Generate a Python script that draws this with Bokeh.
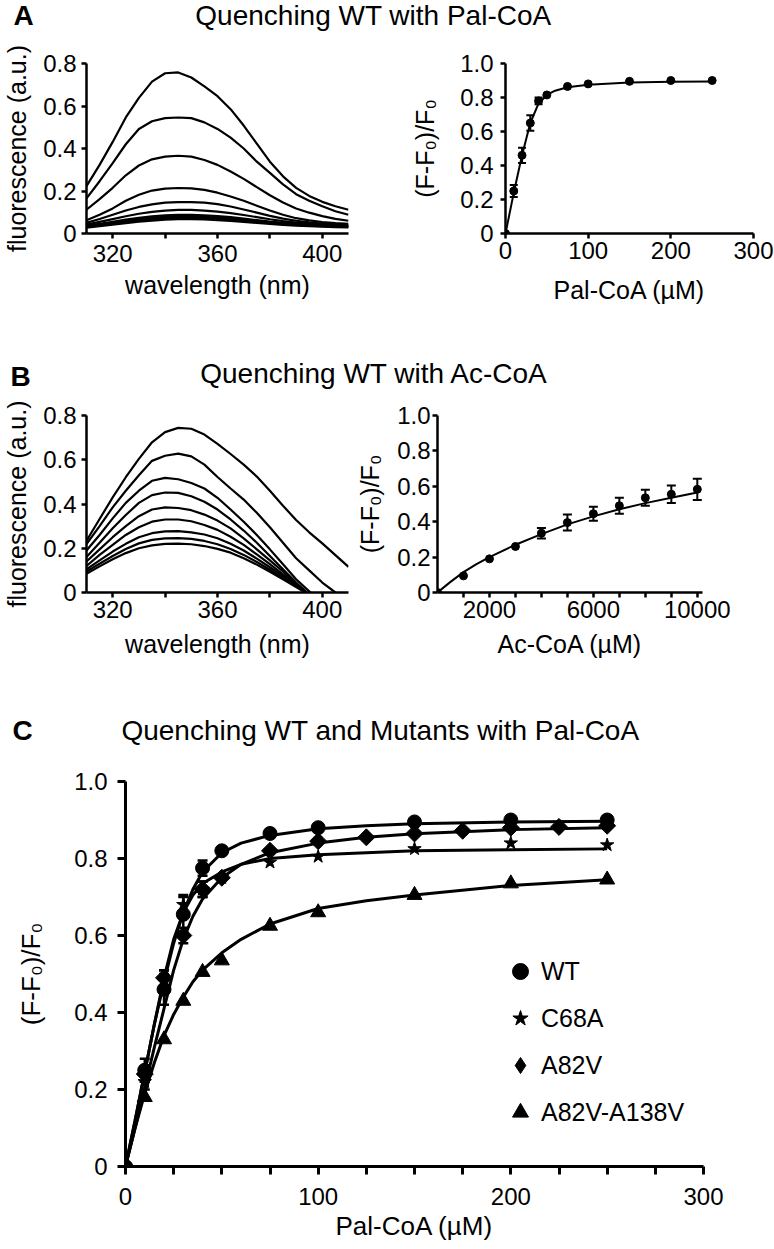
from bokeh.plotting import figure
from bokeh.models import (Range1d, FixedTicker, ColumnDataSource, Whisker, TeeHead,
                          Legend, LegendItem, PrintfTickFormatter)
from bokeh.layouts import column, row
from bokeh.embed import file_html
from bokeh.resources import INLINE
from bokeh.core.properties import value

FONT = "Liberation Sans"

# ---------------- data ----------------
# Panel A (left): emission spectra, WT quenched with Pal-CoA
wl_a = [310, 315, 320, 325, 330, 335, 340, 345, 350, 355, 360, 365, 370, 375, 380, 385, 390, 395, 400, 405, 410]
a_spec1 = [0.223, 0.323, 0.431, 0.546, 0.638, 0.715, 0.754, 0.758, 0.734, 0.692, 0.646, 0.585, 0.508, 0.423, 0.338, 0.269, 0.215, 0.177, 0.149, 0.128, 0.112]
a_spec2 = [0.165, 0.246, 0.331, 0.420, 0.492, 0.528, 0.543, 0.546, 0.543, 0.523, 0.492, 0.451, 0.400, 0.338, 0.285, 0.231, 0.185, 0.154, 0.128, 0.105, 0.088]
a_spec3 = [0.112, 0.162, 0.215, 0.274, 0.320, 0.349, 0.362, 0.366, 0.362, 0.346, 0.323, 0.292, 0.257, 0.218, 0.180, 0.146, 0.118, 0.098, 0.082, 0.069, 0.060]
a_spec4 = [0.062, 0.088, 0.118, 0.154, 0.182, 0.202, 0.211, 0.214, 0.212, 0.205, 0.192, 0.174, 0.154, 0.131, 0.108, 0.088, 0.072, 0.062, 0.054, 0.049, 0.045]
a_spec5 = [0.050, 0.068, 0.088, 0.108, 0.125, 0.137, 0.145, 0.148, 0.148, 0.145, 0.138, 0.127, 0.113, 0.098, 0.083, 0.070, 0.060, 0.052, 0.047, 0.043, 0.040]
a_spec6 = [0.042, 0.055, 0.068, 0.081, 0.093, 0.102, 0.108, 0.111, 0.111, 0.108, 0.103, 0.096, 0.087, 0.077, 0.067, 0.058, 0.051, 0.045, 0.041, 0.038, 0.036]
a_spec7 = [0.036, 0.045, 0.055, 0.065, 0.074, 0.081, 0.086, 0.088, 0.088, 0.086, 0.082, 0.077, 0.070, 0.063, 0.056, 0.050, 0.045, 0.041, 0.038, 0.036, 0.034]
a_spec8 = [0.033, 0.041, 0.050, 0.059, 0.067, 0.074, 0.078, 0.080, 0.080, 0.078, 0.075, 0.070, 0.064, 0.058, 0.052, 0.047, 0.042, 0.039, 0.036, 0.034, 0.032]
a_spec9 = [0.030, 0.038, 0.046, 0.054, 0.062, 0.068, 0.072, 0.074, 0.074, 0.072, 0.069, 0.065, 0.060, 0.054, 0.049, 0.044, 0.040, 0.037, 0.034, 0.032, 0.031]
a_spec10 = [0.027, 0.034, 0.042, 0.049, 0.056, 0.061, 0.065, 0.067, 0.067, 0.066, 0.063, 0.059, 0.055, 0.050, 0.045, 0.041, 0.037, 0.034, 0.032, 0.030, 0.029]

# Panel A (right): WT titration with Pal-CoA
pal_a = [0, 10, 20, 30, 40, 50, 75, 100, 150, 200, 250]
quench_a = [0, 0.25, 0.46, 0.65, 0.78, 0.815, 0.865, 0.88, 0.895, 0.90, 0.90]
err_a = [0, 0.035, 0.045, 0.045, 0.02, 0, 0, 0, 0, 0, 0]
fit_a_x = [0, 10, 20, 30, 40, 50, 60, 75, 100, 150, 200, 250]
fit_a_y = [0, 0.24, 0.46, 0.65, 0.765, 0.815, 0.84, 0.86, 0.875, 0.888, 0.892, 0.894]

# Panel B (left): emission spectra, WT quenched with Ac-CoA
wl_b = [310, 315, 320, 325, 330, 335, 340, 345, 350, 355, 360, 365, 370, 375, 380, 385, 390, 395, 400, 405, 410]
b_spec1 = [0.234, 0.332, 0.430, 0.521, 0.604, 0.679, 0.725, 0.744, 0.740, 0.714, 0.672, 0.626, 0.578, 0.524, 0.460, 0.392, 0.328, 0.272, 0.222, 0.169, 0.116]
b_spec2 = [0.219, 0.300, 0.385, 0.460, 0.530, 0.595, 0.618, 0.628, 0.615, 0.578, 0.522, 0.470, 0.420, 0.360, 0.295, 0.225, 0.155, 0.100, 0.045, 0.0, -0.05]
b_spec3 = [0.190, 0.260, 0.335, 0.405, 0.460, 0.505, 0.518, 0.512, 0.495, 0.470, 0.428, 0.375, 0.320, 0.260, 0.195, 0.128, 0.060, 0.005, -0.05, -0.10, -0.15]
b_spec4 = [0.160, 0.225, 0.290, 0.350, 0.405, 0.440, 0.452, 0.450, 0.435, 0.410, 0.375, 0.330, 0.280, 0.225, 0.165, 0.105, 0.045, -0.01, -0.06, -0.10, -0.15]
b_spec5 = [0.140, 0.195, 0.250, 0.300, 0.345, 0.375, 0.385, 0.382, 0.372, 0.352, 0.325, 0.290, 0.245, 0.195, 0.145, 0.095, 0.040, -0.01, -0.06, -0.10, -0.15]
b_spec6 = [0.120, 0.170, 0.215, 0.260, 0.295, 0.320, 0.330, 0.330, 0.322, 0.305, 0.283, 0.252, 0.215, 0.172, 0.128, 0.082, 0.035, -0.01, -0.06, -0.10, -0.15]
b_spec7 = [0.105, 0.145, 0.185, 0.220, 0.250, 0.268, 0.276, 0.277, 0.272, 0.262, 0.245, 0.220, 0.190, 0.153, 0.114, 0.074, 0.030, -0.01, -0.06, -0.10, -0.15]
b_spec8 = [0.095, 0.130, 0.165, 0.197, 0.222, 0.238, 0.245, 0.246, 0.242, 0.233, 0.218, 0.197, 0.170, 0.138, 0.103, 0.066, 0.028, -0.01, -0.06, -0.10, -0.15]
b_spec9 = [0.085, 0.118, 0.150, 0.178, 0.200, 0.213, 0.220, 0.221, 0.218, 0.210, 0.197, 0.180, 0.155, 0.126, 0.094, 0.060, 0.025, -0.01, -0.06, -0.10, -0.15]

# Panel B (right): WT titration with Ac-CoA
ac_b = [0, 1000, 2000, 3000, 4000, 5000, 6000, 7000, 8000, 9000, 10000]
quench_b = [0, 0.094, 0.19, 0.26, 0.335, 0.395, 0.445, 0.49, 0.535, 0.555, 0.583]
err_b = [0, 0, 0, 0, 0.03, 0.045, 0.04, 0.045, 0.045, 0.05, 0.06]
fit_b_x = [0, 500, 1000, 1500, 2000, 3000, 4000, 5000, 6000, 7000, 8000, 9000, 10000]
fit_b_y = [0, 0.06, 0.115, 0.16, 0.20, 0.27, 0.33, 0.385, 0.43, 0.47, 0.505, 0.535, 0.565]

# Panel C: WT and mutants with Pal-CoA
pal_c = [0, 10, 20, 30, 40, 50, 75, 100, 150, 200, 250]
wt_c = [0, 0.25, 0.46, 0.655, 0.775, 0.82, 0.865, 0.88, 0.895, 0.90, 0.90]
wt_err = [0, 0.03, 0.04, 0.045, 0.02, 0, 0, 0, 0, 0, 0]
c68a_c = [0, 0.22, 0.48, 0.68, 0.72, 0.75, 0.79, 0.805, 0.825, 0.84, 0.835]
c68a_err = [0, 0.02, 0.03, 0.025, 0.02, 0, 0, 0, 0, 0, 0]
pal_c_a82v = [0, 10, 20, 30, 40, 50, 75, 100, 125, 150, 175, 200, 225, 250]
a82v_c = [0, 0.24, 0.49, 0.60, 0.72, 0.75, 0.82, 0.845, 0.855, 0.865, 0.872, 0.88, 0.882, 0.885]
a82v_err = [0, 0.02, 0.02, 0.02, 0.02, 0, 0, 0, 0, 0, 0, 0, 0, 0]
a138v_c = [0, 0.18, 0.33, 0.43, 0.505, 0.535, 0.625, 0.66, 0.705, 0.735, 0.745]

fit_c_x = [0, 5, 10, 15, 20, 25, 30, 35, 40, 50, 60, 75, 100, 125, 150, 200, 250]
fit_wt = [0, 0.12, 0.245, 0.37, 0.48, 0.58, 0.66, 0.72, 0.765, 0.815, 0.84, 0.86, 0.877, 0.885, 0.89, 0.895, 0.897]
fit_c68a = [0, 0.12, 0.245, 0.37, 0.49, 0.59, 0.66, 0.705, 0.735, 0.765, 0.785, 0.80, 0.81, 0.815, 0.82, 0.823, 0.825]
fit_a82v = [0, 0.10, 0.205, 0.31, 0.41, 0.51, 0.59, 0.65, 0.695, 0.75, 0.785, 0.815, 0.84, 0.855, 0.864, 0.875, 0.88]
fit_a138v = [0, 0.10, 0.19, 0.27, 0.34, 0.395, 0.44, 0.48, 0.51, 0.555, 0.59, 0.63, 0.67, 0.69, 0.705, 0.73, 0.745]

series_names = ["WT", "C68A", "A82V", "A82V-A138V"]

ticks_wl = [320, 340, 360, 380, 400]
ticks_frac08 = [0, 0.2, 0.4, 0.6, 0.8]
ticks_frac10 = [0, 0.2, 0.4, 0.6, 0.8, 1.0]
ticks_pal = [0, 100, 200, 300]
ticks_ac = [1000, 2000, 3000, 4000, 5000, 6000, 7000, 8000, 9000, 10000]
ticks_ac_labeled = [2000, 6000, 10000]
ticks_pal_c = [0, 25, 50, 75, 100, 125, 150, 175, 200, 225, 250, 275, 300]

W = 774


# ---------------- helpers ----------------
def make_fig(width, height, left, right, top, bottom, xr, yr):
    p = figure(width=width, height=height, x_range=Range1d(*xr), y_range=Range1d(*yr),
               output_backend="svg", toolbar_location=None, tools="",
               min_border_left=left, min_border_right=right,
               min_border_top=top, min_border_bottom=bottom)
    p.outline_line_color = None
    p.grid.visible = False
    p.background_fill_color = "white"
    p.border_fill_color = "white"
    return p


def style_axis(ax, ticks, tick_out, standoff, label, label_standoff,
               tick_size="24px", label_size="25px", overrides=None, frac=False, lw=2.5):
    ax.ticker = FixedTicker(ticks=ticks)
    if frac:
        ax.formatter = PrintfTickFormatter(format="%.1f")
        ax.major_label_overrides = {0: "0"}
    elif overrides:
        ax.major_label_overrides = overrides
    ax.axis_line_width = lw
    ax.axis_line_color = "black"
    ax.major_tick_line_width = lw
    ax.major_tick_line_color = "black"
    ax.major_tick_out = tick_out
    ax.major_tick_in = 0
    ax.minor_tick_line_color = None
    ax.major_label_standoff = standoff
    ax.major_label_text_font = FONT
    ax.major_label_text_font_size = tick_size
    ax.major_label_text_color = "black"
    ax.axis_label = label
    ax.axis_label_standoff = label_standoff
    ax.axis_label_text_font = FONT
    ax.axis_label_text_font_size = label_size
    ax.axis_label_text_font_style = "normal"
    ax.axis_label_text_color = "black"


def header(height, y0, letter, lx, ly, title, tx, ty, title_size="28px"):
    # page-pixel coordinate system for the heading strip
    p = figure(width=W, height=height, x_range=Range1d(0, W), y_range=Range1d(y0 + height, y0),
               output_backend="svg", toolbar_location=None, tools="",
               min_border_left=0, min_border_right=0, min_border_top=0, min_border_bottom=0,
               x_axis_type=None, y_axis_type=None)
    p.outline_line_color = None
    p.background_fill_color = "white"
    p.border_fill_color = "white"
    p.text(x=[lx], y=[ly], text=[letter], text_font=value(FONT), text_font_size="28px",
           text_font_style="bold", text_align="left", text_baseline="middle", text_color="black")
    p.text(x=[tx], y=[ty], text=[title], text_font=value(FONT), text_font_size=title_size,
           text_align="center", text_baseline="middle", text_color="black")
    return row(p)


def whiskers(p, xs, ys, errs, head=8, lw=2):
    xx = [x for x, e in zip(xs, errs) if e > 0]
    up = [y + e for y, e in zip(ys, errs) if e > 0]
    lo = [y - e for y, e in zip(ys, errs) if e > 0]
    src = ColumnDataSource(dict(x=xx, upper=up, lower=lo))
    w = Whisker(source=src, base="x", upper="upper", lower="lower", line_width=lw,
                line_color="black",
                upper_head=TeeHead(size=head, line_width=lw, line_color="black"),
                lower_head=TeeHead(size=head, line_width=lw, line_color="black"))
    p.add_layout(w)


# ---------------- Panel A ----------------
headA = header(34, 0, "A", 13, 15, "Quenching WT with Pal-CoA", 373, 15)

pA1 = make_fig(390, 291, 82, 42, 29, 92, (310, 410), (0, 0.8))
a_specs = [a_spec1, a_spec2, a_spec3, a_spec4, a_spec5, a_spec6, a_spec7, a_spec8, a_spec9, a_spec10]
pA1.multi_line(xs=[wl_a] * len(a_specs), ys=a_specs, line_color="black", line_width=2.2)
style_axis(pA1.xaxis[0], ticks_wl, 5, 6, "wavelength (nm)", 6, overrides={340: "", 380: ""})
style_axis(pA1.yaxis[0], ticks_frac08, 5, 5, "fluorescence (a.u.)", 9, frac=True)

pA2 = make_fig(384, 291, 115, 21, 29, 92, (0, 300), (0, 1.0))
pA2.line(fit_a_x, fit_a_y, line_color="black", line_width=2)
whiskers(pA2, pal_a, quench_a, err_a, head=8)
pA2.scatter(pal_a, quench_a, marker="circle", size=8, color="black")
style_axis(pA2.xaxis[0], ticks_pal, 5, 3, "Pal-CoA (µM)", 14)
style_axis(pA2.yaxis[0], ticks_frac10, 5, 7, "(F-F₀)/F₀", 18, frac=True)

# ---------------- Panel B ----------------
headB = header(67, 325, "B", 10, 376, "Quenching WT with Ac-CoA", 374, 373)

pB1 = make_fig(352, 298, 82, 4, 23, 98, (310, 410), (0, 0.8))
b_specs = [b_spec1, b_spec2, b_spec3, b_spec4, b_spec5, b_spec6, b_spec7, b_spec8, b_spec9]
pB1.multi_line(xs=[wl_b] * len(b_specs), ys=b_specs, line_color="black", line_width=2.2)
style_axis(pB1.xaxis[0], ticks_wl, 5, 3, "wavelength (nm)", 9, overrides={340: "", 380: ""})
style_axis(pB1.yaxis[0], ticks_frac08, 5, 5, "fluorescence (a.u.)", 9, frac=True)

pB2 = make_fig(422, 298, 85, 72, 23, 98, (0, 10200), (0, 1.0))
pB2.line(fit_b_x, fit_b_y, line_color="black", line_width=2)
whiskers(pB2, ac_b, quench_b, err_b, head=9)
pB2.scatter(ac_b, quench_b, marker="circle", size=8, color="black")
ac_over = {t: "" for t in ticks_ac if t not in ticks_ac_labeled}
style_axis(pB2.xaxis[0], ticks_ac, 5, 3, "Ac-CoA (µM)", 9, overrides=ac_over)
style_axis(pB2.yaxis[0], ticks_frac10, 5, 2, "(F-F₀)/F₀", 10, frac=True)

# ---------------- Panel C ----------------
headC = header(70, 690, "C", 12, 730, "Quenching WT and Mutants with Pal-CoA", 380, 730)

pC = make_fig(W, 488, 125, 71, 21, 82, (0, 300), (0, 1.0))
for fy in (fit_wt, fit_c68a, fit_a82v, fit_a138v):
    pC.line(fit_c_x, fy, line_color="black", line_width=3)
whiskers(pC, pal_c, wt_c, wt_err, head=10, lw=2.5)
whiskers(pC, pal_c, c68a_c, c68a_err, head=10, lw=2.5)
whiskers(pC, pal_c_a82v, a82v_c, a82v_err, head=10, lw=2.5)
r_wt = pC.scatter(pal_c, wt_c, marker="circle", size=14, color="black")
r_c68a = pC.scatter(pal_c, c68a_c, marker="star", size=14, color="black")
pC.scatter(pal_c_a82v, a82v_c, marker="square", angle=0.785398, size=12, color="black")
# legend key for A82V (diamond outline shape); hidden in the plot area itself
r_a82v_key = pC.scatter(pal_c_a82v, a82v_c, marker="diamond", size=20, color="black", visible=False)
r_a138v = pC.scatter(pal_c, a138v_c, marker="triangle", size=15, color="black")
c_over = {t: "" for t in ticks_pal_c if t % 100 != 0}
style_axis(pC.xaxis[0], ticks_pal_c, 8, 13, "Pal-CoA (µM)", 3, tick_size="24px", label_size="26px",
           overrides=c_over, lw=3)
style_axis(pC.yaxis[0], ticks_frac10, 8, 10, "(F-F₀)/F₀", 25, tick_size="24px", label_size="26px",
           frac=True, lw=3)

legend = Legend(items=[LegendItem(label=series_names[0], renderers=[r_wt]),
                       LegendItem(label=series_names[1], renderers=[r_c68a]),
                       LegendItem(label=series_names[2], renderers=[r_a82v_key]),
                       LegendItem(label=series_names[3], renderers=[r_a138v])],
                location=(375, 34), orientation="vertical", padding=0, margin=0, spacing=7,
                glyph_width=40, glyph_height=40, label_height=40, label_standoff=1,
                label_text_font=FONT, label_text_font_size="25px", label_text_color="black",
                border_line_color=None, background_fill_alpha=0,
                inactive_fill_alpha=0)
pC.add_layout(legend)

layout = column(headA, row(pA1, pA2), headB, row(pB1, pB2), headC, row(pC))

open("out.html", "w").write(file_html(layout, INLINE))
